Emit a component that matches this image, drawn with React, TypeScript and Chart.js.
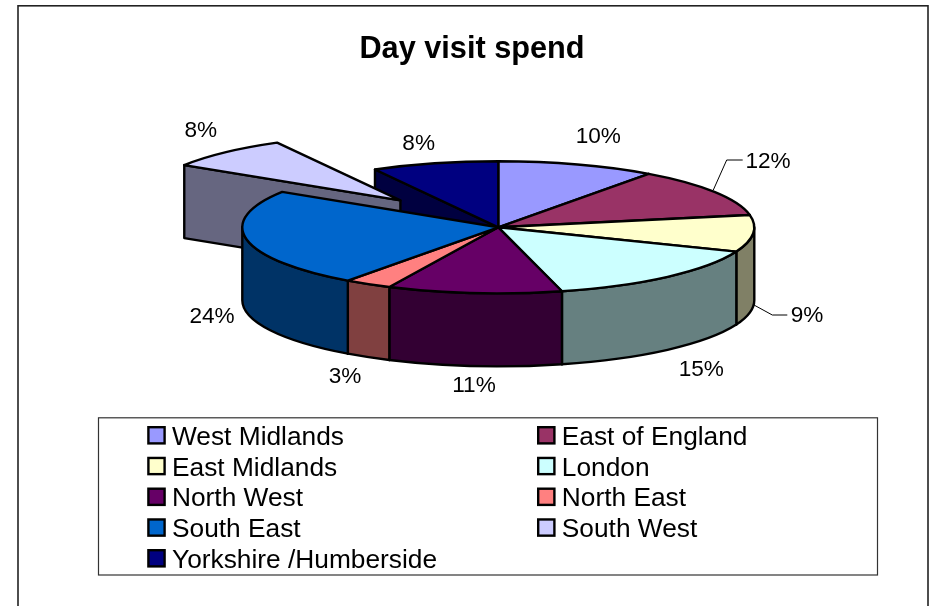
import React, { useEffect, useRef } from "react";
import { Chart, PieController, registerables } from "chart.js";

Chart.register(...registerables);

// Day visit spend by region, in per cent of the total.
const regions = [
  "West Midlands",
  "East of England",
  "East Midlands",
  "London",
  "North West",
  "North East",
  "South East",
  "South West",
  "Yorkshire /Humberside",
];
const spendShare = [10, 12, 9, 15, 11, 3, 24, 8, 8];
const sliceColours = [
  "#9999FF",
  "#993366",
  "#FFFFCC",
  "#CCFFFF",
  "#660066",
  "#FF8080",
  "#0066CC",
  "#CCCCFF",
  "#000080",
];
const explodedRegion = "South West";

const FONT = '"Liberation Sans", Arial, sans-serif';
const WIDTH = 932;
const HEIGHT = 606;

// Projection of the pie: a flat disc tilted towards the viewer and extruded downwards.
const CENTER_X = 498.3;
const CENTER_Y = 227.3;
const RADIUS = 256;
const TILT = 66 / 256;
const DEPTH = 73;
const EXPLODE_DISTANCE = 143;
const OUTLINE = 2.4;

// Wall colour is the slice colour at half brightness.
function shade(hex: string): string {
  const n = parseInt(hex.slice(1), 16);
  const half = (v: number) => Math.round(v / 2);
  return `rgb(${half((n >> 16) & 255)},${half((n >> 8) & 255)},${half(n & 255)})`;
}

class Pie3DController extends PieController {
  static id = "pie3d";

  // Screen-space centre of one slice, after any explosion along its bisector.
  sliceCentre(arc: any, index: number) {
    const exploded = (this.chart.data.labels as string[])[index] === explodedRegion;
    const mid = (arc.startAngle + arc.endAngle) / 2;
    const d = exploded ? EXPLODE_DISTANCE : 0;
    return {
      exploded,
      cx: CENTER_X + Math.cos(mid) * d,
      cy: CENTER_Y + Math.sin(mid) * d * TILT,
    };
  }

  pathTop(ctx: CanvasRenderingContext2D, arc: any, cx: number, cy: number) {
    ctx.beginPath();
    ctx.moveTo(cx, cy);
    ctx.ellipse(cx, cy, RADIUS, RADIUS * TILT, 0, arc.startAngle, arc.endAngle);
    ctx.closePath();
  }

  // Vertical cut faces along the two radial edges, where they face the viewer.
  drawFaces(ctx: CanvasRenderingContext2D, arc: any, colour: string, cx: number, cy: number) {
    const faces: number[] = [];
    if (Math.cos(arc.startAngle) < 0) faces.push(arc.startAngle);
    if (Math.cos(arc.endAngle) > 0) faces.push(arc.endAngle);
    for (const a of faces) {
      const x = cx + Math.cos(a) * RADIUS;
      const y = cy + Math.sin(a) * RADIUS * TILT;
      ctx.beginPath();
      ctx.moveTo(cx, cy);
      ctx.lineTo(x, y);
      ctx.lineTo(x, y + DEPTH);
      ctx.lineTo(cx, cy + DEPTH);
      ctx.closePath();
      ctx.fillStyle = shade(colour);
      ctx.fill();
      ctx.stroke();
    }
  }

  // Curved rim, only the part on the near half of the ellipse.
  drawRim(ctx: CanvasRenderingContext2D, arc: any, colour: string, cx: number, cy: number) {
    const from = Math.max(arc.startAngle, 0);
    const to = Math.min(arc.endAngle, Math.PI);
    if (to <= from) return;
    const ry = RADIUS * TILT;
    ctx.beginPath();
    ctx.ellipse(cx, cy, RADIUS, ry, 0, from, to);
    ctx.ellipse(cx, cy + DEPTH, RADIUS, ry, 0, to, from, true);
    ctx.closePath();
    ctx.fillStyle = shade(colour);
    ctx.fill();
    ctx.stroke();
  }

  // The top face is painted by the arc element itself, squashed into the tilted plane;
  // its outline is stroked afterwards so the line keeps an even width.
  drawTop(ctx: CanvasRenderingContext2D, arc: any, cx: number, cy: number) {
    ctx.save();
    ctx.translate(cx, cy);
    ctx.scale(1, TILT);
    ctx.translate(-arc.x, -arc.y);
    arc.draw(ctx);
    ctx.restore();
    this.pathTop(ctx, arc, cx, cy);
    ctx.stroke();
  }

  draw() {
    const ctx = this.chart.ctx as CanvasRenderingContext2D;
    const arcs = this.getMeta().data as any[];
    const colours = this.getDataset().backgroundColor as string[];
    const items = arcs.map((arc, i) => ({ arc, colour: colours[i], ...this.sliceCentre(arc, i) }));

    ctx.save();
    ctx.strokeStyle = "#000";
    ctx.lineWidth = OUTLINE;
    ctx.lineJoin = "round";

    for (const s of items) if (!s.exploded) this.drawFaces(ctx, s.arc, s.colour, s.cx, s.cy);
    for (const s of items) {
      if (!s.exploded) continue;
      this.drawFaces(ctx, s.arc, s.colour, s.cx, s.cy);
      this.drawRim(ctx, s.arc, s.colour, s.cx, s.cy);
      this.drawTop(ctx, s.arc, s.cx, s.cy);
    }
    for (const s of items) if (!s.exploded) this.drawRim(ctx, s.arc, s.colour, s.cx, s.cy);
    for (const s of items) if (!s.exploded) this.drawTop(ctx, s.arc, s.cx, s.cy);
    ctx.restore();
  }
}

// Percentage labels sit by hand around the pie, in order of the slices.
const LABEL_SPOTS = [
  [598.3, 136.7],
  [768, 161.7],
  [807, 316],
  [701.3, 369.3],
  [474, 386],
  [345, 377],
  [212, 316.3],
  [200.8, 130.3],
  [418.7, 143.7],
];
const LEADERS = [
  [[713.3, 190], [726.7, 160], [742.7, 160]],
  [[754, 305], [772.3, 315], [787.3, 315]],
];

const pieDecor = {
  id: "pieDecor",
  beforeDraw(chart: Chart) {
    const ctx = chart.ctx;
    ctx.save();
    ctx.strokeStyle = "#222";
    ctx.lineWidth = 1.6;
    ctx.strokeRect(18, 5.8, 910, HEIGHT + 20);
    ctx.restore();
  },
  afterDraw(chart: Chart) {
    const ctx = chart.ctx;
    const labels = chart.data.labels as string[];
    const values = chart.data.datasets[0].data as number[];
    const colours = chart.data.datasets[0].backgroundColor as string[];
    ctx.save();

    // Value labels and their leader lines.
    ctx.fillStyle = "#000";
    ctx.font = `22.6px ${FONT}`;
    ctx.textAlign = "center";
    ctx.textBaseline = "middle";
    values.forEach((v, i) => {
      ctx.fillText(`${v}%`, LABEL_SPOTS[i][0], LABEL_SPOTS[i][1]);
    });
    ctx.strokeStyle = "#000";
    ctx.lineWidth = 1;
    for (const line of LEADERS) {
      ctx.beginPath();
      line.forEach(([x, y], i) => (i ? ctx.lineTo(x, y) : ctx.moveTo(x, y)));
      ctx.stroke();
    }

    // Boxed two-column legend, filled row by row.
    ctx.strokeStyle = "#333";
    ctx.lineWidth = 1.2;
    ctx.strokeRect(98.5, 417.8, 779, 157.2);
    ctx.font = `26.3px ${FONT}`;
    ctx.textAlign = "left";
    ctx.textBaseline = "alphabetic";
    labels.forEach((name, i) => {
      const col = i % 2;
      const row = Math.floor(i / 2);
      const x = col ? 537 : 147.2;
      const y = 426 + row * 30.75;
      ctx.fillStyle = colours[i];
      ctx.fillRect(x + 1.2, y + 1.2, 16.2, 16.2);
      ctx.strokeStyle = "#000";
      ctx.lineWidth = 2.4;
      ctx.strokeRect(x + 1.2, y + 1.2, 16.2, 16.2);
      ctx.fillStyle = "#000";
      ctx.fillText(name, x + 24.8, y + 18.8);
    });
    ctx.restore();
  },
};

Chart.register(Pie3DController);

export default function App() {
  const canvasRef = useRef<HTMLCanvasElement>(null);

  useEffect(() => {
    const chart = new Chart(canvasRef.current as HTMLCanvasElement, {
      type: "pie3d" as any,
      data: {
        labels: regions,
        datasets: [
          {
            data: spendShare,
            backgroundColor: sliceColours,
            borderWidth: 0,
            radius: RADIUS,
            clip: false,
          } as any,
        ],
      },
      options: {
        animation: false,
        responsive: false,
        events: [],
        layout: { padding: { left: 12 } },
        plugins: {
          legend: { display: false },
          tooltip: { enabled: false },
          title: {
            display: true,
            text: "Day visit spend",
            color: "#000",
            font: { family: FONT, size: 30.7, weight: "bold" },
            padding: { top: 31.2, bottom: 0 },
          },
        },
      },
      plugins: [pieDecor],
    });
    return () => chart.destroy();
  }, []);

  return (
    <canvas
      ref={canvasRef}
      width={WIDTH}
      height={HEIGHT}
      style={{ position: "absolute", left: 0, top: 0, display: "block" }}
    />
  );
}
